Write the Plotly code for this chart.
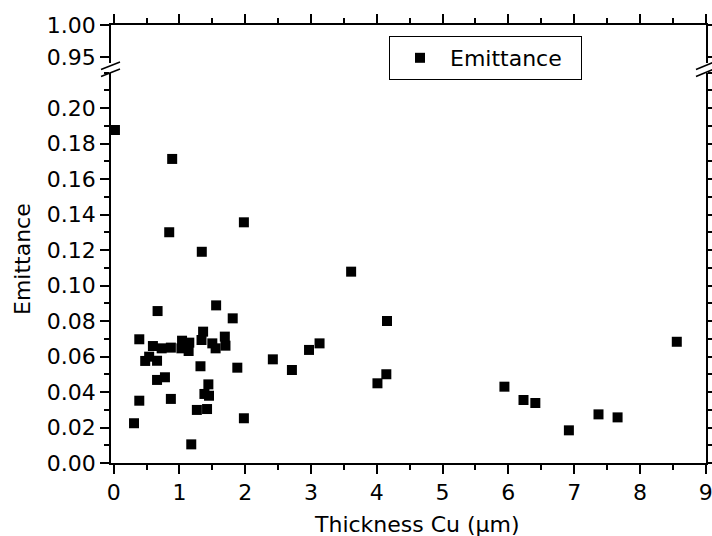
import plotly.graph_objects as go

# Data (Thickness Cu in µm, Emittance)
thickness = [0.02, 0.89, 0.845, 1.34, 1.98,
             1.558, 0.668, 1.81, 1.36, 0.39, 1.69, 1.336, 1.04, 1.15, 0.597,
             0.73, 0.87, 1.03, 1.14, 1.50, 1.55, 1.70, 0.54, 0.48, 0.66,
             1.32, 1.88, 0.66, 0.78, 1.44, 1.38, 1.45, 0.39, 0.87, 1.265,
             1.42, 0.31, 1.98, 1.18,
             3.61, 4.155, 3.13, 2.97, 2.42, 2.71, 4.145, 4.01,
             5.94, 6.23, 6.41, 6.92, 7.37, 7.66, 8.56]
emittance = [0.1876, 0.1713, 0.130, 0.119, 0.1356,
             0.0888, 0.0856, 0.0815, 0.0740, 0.0697, 0.0712, 0.0693, 0.0689, 0.0678, 0.0659,
             0.0646, 0.0650, 0.0646, 0.0631, 0.0674, 0.0646, 0.0661, 0.0599, 0.0575, 0.0576,
             0.0545, 0.0537, 0.0468, 0.0483, 0.0443, 0.0389, 0.0379, 0.0351, 0.0361, 0.0299,
             0.0304, 0.0224, 0.0252, 0.0105,
             0.1078, 0.0800, 0.0674, 0.0637, 0.0584, 0.0524, 0.0500, 0.0449,
             0.0430, 0.0355, 0.0338, 0.0184, 0.0274, 0.0257, 0.0683]

x_range = [-0.04, 9.004]
lower_range = [0.0, 0.22]
upper_range = [0.94, 1.0]
lower_ticks = [0.00, 0.02, 0.04, 0.06, 0.08, 0.10, 0.12, 0.14, 0.16, 0.18, 0.20]
upper_ticks = [0.95, 1.00]
x_ticks = [0, 1, 2, 3, 4, 5, 6, 7, 8, 9]

FONT = "DejaVu Sans"
FS = 22
W, H = 712, 536
ML, MR, MT, MB = 111, 6, 25, 73
PW, PH = W - ML - MR, H - MT - MB

def px_to_paper(px, py):
    return (px - ML) / PW, (H - MB - py) / PH

lower_top_px = 72.5
upper_bot_px = 63.4
lower_dom = [0, (H - MB - lower_top_px) / PH]
upper_dom = [(H - MB - upper_bot_px) / PH, 1]

fig = go.Figure()
fig.add_trace(go.Scatter(x=thickness, y=emittance, mode="markers", name="Emittance\u00a0\u00a0",
                         marker=dict(symbol="square", size=10, color="black", line=dict(width=0)),
                         xaxis="x", yaxis="y", cliponaxis=False))
# invisible trace for the upper panel so it gets drawn
fig.add_trace(go.Scatter(x=[None], y=[None], mode="markers", showlegend=False,
                         xaxis="x2", yaxis="y2"))

axis_common = dict(showline=True, linecolor="black", linewidth=1.5, ticks="outside",
                   ticklen=9, tickwidth=1.5, tickcolor="black", showgrid=False,
                   zeroline=False, automargin=False, ticklabeloverflow="allow",
                   tickfont=dict(family=FONT, size=FS, color="black"))

fig.update_layout(
    width=W, height=H, template=None,
    paper_bgcolor="white", plot_bgcolor="white",
    margin=dict(l=ML, r=MR, t=MT, b=MB, pad=0),
    font=dict(family=FONT, size=FS, color="black"),
    xaxis=dict(range=x_range, anchor="y", domain=[0, 1], tickvals=x_ticks,
               minor=dict(dtick=0.5, tick0=0, ticklen=5, tickwidth=1.5, tickcolor="black", ticks="outside"),
               mirror=False, **axis_common),
    xaxis2=dict(range=x_range, anchor="y2", matches="x", side="top", domain=[0, 1],
                tickvals=x_ticks, showticklabels=False,
                minor=dict(dtick=0.5, tick0=0, ticklen=5, tickwidth=1.5, tickcolor="black", ticks="outside"),
                mirror=False, **axis_common),
    yaxis=dict(range=lower_range, anchor="x", domain=lower_dom, tickvals=lower_ticks,
               tickformat=".2f", mirror="ticks",
               minor=dict(dtick=0.01, tick0=0, ticklen=5, tickwidth=1.5, tickcolor="black", ticks="outside"),
               **axis_common),
    yaxis2=dict(range=upper_range, anchor="x2", domain=upper_dom, tickvals=upper_ticks,
                tickformat=".2f", mirror="ticks", **axis_common),
    showlegend=True,
    legend=dict(x=(389 - ML) / PW, y=(H - MB - 36) / PH, xanchor="left", yanchor="top",
                bgcolor="white", bordercolor="black", borderwidth=1,
                font=dict(family=FONT, size=FS, color="black"), itemwidth=50),
)

# axis titles
fig.add_annotation(text="Emittance", textangle=-90, xref="paper", yref="paper",
                   x=(22 - ML) / PW, y=(H - MB - 259) / PH, showarrow=False,
                   font=dict(family=FONT, size=FS, color="black"), xanchor="center", yanchor="middle")
fig.add_annotation(text="Thickness Cu (µm)", xref="paper", yref="paper",
                   x=(417 - ML) / PW, y=(H - MB - 524) / PH, showarrow=False,
                   font=dict(family=FONT, size=FS, color="black"), xanchor="center", yanchor="middle")

# axis break marks
for (xa, xb) in [(101, 120), (696, 714)]:
    for (ya, yb) in [(69.5, 62.0), (76.5, 69.0)]:
        x0, y0 = px_to_paper(xa, ya)
        x1, y1 = px_to_paper(xb, yb)
        fig.add_shape(type="line", xref="paper", yref="paper", x0=x0, y0=y0, x1=x1, y1=y1,
                      line=dict(color="black", width=1.5))

fig.write_html("out.html")
